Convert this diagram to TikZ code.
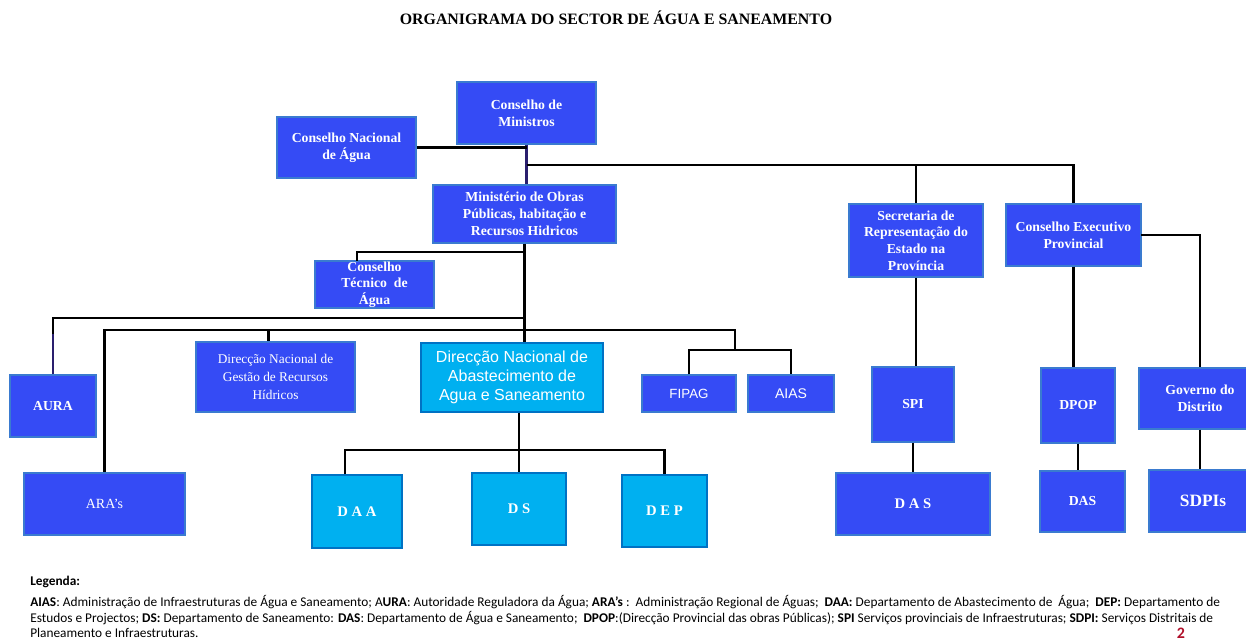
\documentclass[tikz,border=0pt]{standalone}
\usepackage{fontspec}
\setmainfont{Liberation Serif}
\newfontfamily\arialf{Liberation Sans}
\newfontfamily\calib{Carlito}
\definecolor{boxblue}{HTML}{354BF5}
\definecolor{boxedge}{HTML}{3A7BD0}
\definecolor{cyanfill}{HTML}{00B0F0}
\definecolor{cyanedge}{HTML}{0072C4}
\definecolor{indigo}{HTML}{2A1F6E}
\definecolor{pagered}{HTML}{B0102A}
\tikzset{
  sz/.style 2 args={minimum width=#1*0.75pt, minimum height=#2*0.75pt},
  bbox/.style={draw=boxedge, fill=boxblue, line width=1.1pt, inner sep=0pt, align=center,
    text=white, font=\bfseries\fontsize{10.3}{12.6}\selectfont},
  cbox/.style={bbox, draw=cyanedge, fill=cyanfill},
  conn/.style={draw=black, line width=2.1pt},
}
\begin{document}
\begin{tikzpicture}[x=0.75pt,y=-0.75pt]
\useasboundingbox (0,0) rectangle (1246,643);
\node[font=\bfseries\fontsize{11.9}{14}\selectfont] (title) at (616,18) {ORGANIGRAMA DO SECTOR DE ÁGUA E SANEAMENTO};

% boxes
\node[bbox, sz={139}{62}] (cm) at (526.5,113) {Conselho de\\Ministros};
\node[bbox, sz={139}{61}] (cna) at (346.5,147.5) {Conselho Nacional\\de Água};
\node[bbox, sz={183}{58}] (min) at (524.5,214) {Ministério de Obras\\Públicas, habitação e\\Recursos Hidricos};
\node[bbox, sz={119}{47}, font=\bfseries\fontsize{10.3}{12.3}\selectfont] (cta) at (374.5,284.5) {Conselho\\Técnico\enspace de\\Água};
\node[bbox, sz={86}{62}] (aura) at (53,406) {AURA};
\node[bbox, sz={161}{62}, font=\fontsize{10.5}{12}\selectfont] (aras) at (104.5,504) {ARA’s};
\node[bbox, sz={159}{70}, font=\fontsize{10}{13.5}\selectfont] (dngrh) at (275.5,377) {Direcção Nacional de\\Gestão de Recursos\\Hídricos};
\node[cbox, sz={182}{69}, font=\arialf\fontsize{12}{14.5}\selectfont] (dnaas) at (512,377.5) {Direcção Nacional de\\Abastecimento de\\Agua e Saneamento};
\node[bbox, sz={94}{37}, font=\arialf\fontsize{10}{11}\selectfont] (fipag) at (689,393.5) {FIPAG};
\node[bbox, sz={86}{37}, font=\arialf\fontsize{10.5}{11}\selectfont] (aias) at (791,393.5) {AIAS};
\node[cbox, sz={90}{73}, font=\bfseries\fontsize{11}{12}\selectfont] (daa) at (357,511.5) {D A A};
\node[cbox, sz={94}{72}, font=\bfseries\fontsize{11}{12}\selectfont] (ds) at (519,509) {D S};
\node[cbox, sz={85}{72}, font=\bfseries\fontsize{11}{12}\selectfont] (dep) at (664.5,511) {D E P};
\node[bbox, sz={134}{73}, font=\bfseries\fontsize{10.3}{12.5}\selectfont] (sec) at (916,240.5) {Secretaria de\\Representação do\\Estado na\\Província};
\node[bbox, sz={135}{62}] (cep) at (1073.5,235) {Conselho Executivo\\Provincial};
\node[bbox, sz={82}{75}] (spi) at (913,404.5) {SPI};
\node[bbox, sz={74}{75}] (dpop) at (1078,405.5) {DPOP};
\node[bbox, sz={122}{61}] (gov) at (1200,398.5) {Governo do\\Distrito};
\node[bbox, sz={154}{62}, font=\bfseries\fontsize{11}{12}\selectfont] (das1) at (913,504) {D A S};
\node[bbox, sz={85}{61}] (das2) at (1082.5,501.5) {DAS};
\node[bbox, sz={108}{62}, font=\bfseries\fontsize{13}{14}\selectfont] (sdpi) at (1203,501) {SDPIs};

% junction coordinates
\coordinate (j1) at (526.5,165);
\coordinate (b1) at (524.5,252);
\coordinate (ctaTop) at (357,261);
\coordinate (b2) at (524.5,318);
\coordinate (b3) at (524.5,330);
\coordinate (b4) at (735,350);
\coordinate (b5) at (519,450);
\coordinate (g1) at (1141,235);

% connectors
\draw[conn, draw=indigo] (cm.south) -- (cm.south |- min.north);
\draw[conn] (cna.east) -- (cna.east -| cm.south);
\draw[conn] (j1) -| (sec.north);
\draw[conn] (j1) -| (cep.north);
\draw[conn] (min.south) -- (min.south |- dnaas.north);
\draw[conn] (b1) -| (ctaTop);
\draw[conn] (b2) -| (aura.north);
\draw[conn, draw=indigo] (aura.north) -- ++(0,-40);
\draw[conn] (b3) -| (aras.north);
\draw[conn] (b3) -| ([xshift=-5pt]dngrh.north);
\draw[conn] (b3) -| (b4);
\draw[conn] (fipag.north) |- (b4) -| (aias.north);
\draw[conn] (dnaas.south -| ds.north) -- (ds.north);
\draw[conn] ([xshift=-9pt]daa.north) |- (b5) -| (dep.north);
\draw[conn] (sec.south) -- (sec.south |- spi.north);
\draw[conn] (spi.south) -- (das1.north);
\draw[conn] (cep.south) -- (cep.south |- dpop.north);
\draw[conn] (g1) -| (gov.north);
\draw[conn] (dpop.south) -- (dpop.south |- das2.north);
\draw[conn] (gov.south) -- (gov.south |- sdpi.north);

% legend
\begin{scope}[every node/.style={anchor=west, inner sep=0pt, font=\calib\fontsize{10}{11}\selectfont}]
\node (leg0) at (30,582) {\textbf{Legenda:}};
\node (leg1) at (30,602) {\textbf{AIAS}: Administração de Infraestruturas de Água e Saneamento; A\textbf{URA}: Autoridade Reguladora da Água; \textbf{ARA’s} :\ \ Administração Regional de Águas;\ \ \textbf{DAA:} Departamento de Abastecimento de\ \ Água;\ \ \textbf{DEP:} Departamento de};
\node (leg2) at (30,618) {Estudos e Projectos; \textbf{DS:} Departamento de Saneamento: \textbf{DAS}: Departamento de Água e Saneamento;\ \ \textbf{DPOP}:(Direcção Provincial das obras Públicas); \textbf{SPI} Serviços provinciais de Infraestruturas; \textbf{SDPI:} Serviços Distritais de};
\node (leg3) at (30,633) {Planeamento e Infraestruturas.};
\end{scope}
\node[text=pagered, inner sep=0pt, font=\calib\bfseries\fontsize{12}{13}\selectfont] (pg) at (1181,633) {2};
\end{tikzpicture}
\end{document}
